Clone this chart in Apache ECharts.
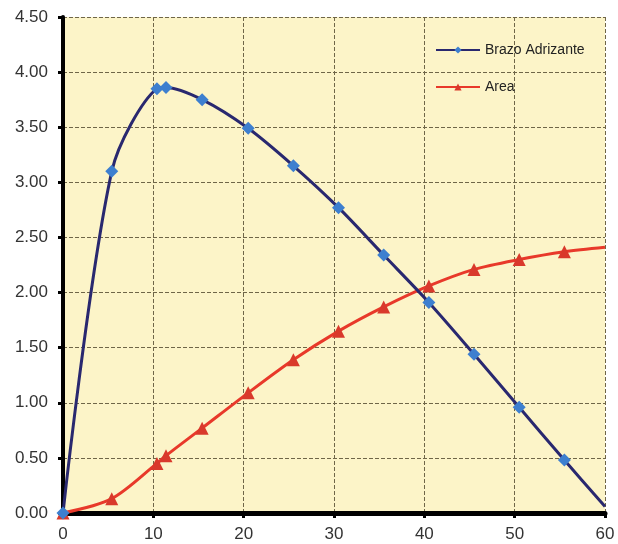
<!DOCTYPE html>
<html>
<head>
<meta charset="utf-8">
<script src="https://cdn.jsdelivr.net/npm/echarts@6/dist/echarts.min.js"></script>
<style>
  html, body { margin: 0; padding: 0; background: #ffffff; }
  #chart { width: 618px; height: 544px; }
</style>
</head>
<body>
<div id="chart"></div>
<script>
// Heel angle (degrees) of each computed point
const angles = [0, 5.4, 10.4, 11.4, 15.4, 20.5, 25.5, 30.5, 35.5, 40.5, 45.5, 50.5, 55.5, 60];
// Righting arm (Brazo Adrizante)
const brazo = [0, 3.10, 3.85, 3.86, 3.75, 3.49, 3.15, 2.77, 2.34, 1.91, 1.44, 0.96, 0.48, 0.06];
// Area under the righting arm curve
const area = [0, 0.13, 0.45, 0.52, 0.77, 1.09, 1.39, 1.65, 1.87, 2.06, 2.21, 2.30, 2.37, 2.41];
// Points drawn without a marker (curve end)
const noMarker = [13];

const seriesNames = ['Brazo Adrizante', 'Area'];
const xMin = 0, xMax = 60, xStep = 10;
const yMin = 0, yMax = 4.5, yStep = 0.5;

function pairs(vals) {
  return angles.map((a, i) => noMarker.includes(i)
    ? { value: [a, vals[i]], symbol: 'none' }
    : [a, vals[i]]);
}

const chart = echarts.init(document.getElementById('chart'), null, { renderer: 'canvas' });
const labelFont = { fontFamily: 'Liberation Sans, Arial, sans-serif', fontSize: 17, color: '#333333' };

chart.setOption({
  animation: false,
  backgroundColor: '#ffffff',
  grid: {
    left: 63, right: 13, top: 17, bottom: 31,
    show: true, backgroundColor: '#fcf4c8', borderWidth: 0
  },
  legend: {
    orient: 'vertical',
    left: 430, top: 38,
    itemGap: 23,
    itemWidth: 44, itemHeight: 9,
    textStyle: { fontFamily: 'Liberation Sans, Arial, sans-serif', fontSize: 14, color: '#222222' },
    data: seriesNames
  },
  xAxis: {
    type: 'value', min: xMin, max: xMax, interval: xStep,
    axisLine: { show: true, onZero: false, lineStyle: { color: '#000000', width: 5 } },
    axisTick: { show: true, length: 5, lineStyle: { color: '#000000', width: 3 } },
    axisLabel: Object.assign({ margin: 13 }, labelFont),
    splitLine: { show: true, lineStyle: { color: '#6f6648', width: 1, type: [4, 2] } }
  },
  yAxis: {
    type: 'value', min: yMin, max: yMax, interval: yStep,
    axisLine: { show: true, onZero: false, lineStyle: { color: '#000000', width: 4 } },
    axisTick: { show: true, length: 5, lineStyle: { color: '#000000', width: 3 } },
    axisLabel: Object.assign({ margin: 15, formatter: v => v.toFixed(2) }, labelFont),
    splitLine: { show: true, lineStyle: { color: '#6f6648', width: 1, type: [4, 2] } }
  },
  series: [
    {
      name: seriesNames[0], type: 'line',
      data: pairs(brazo),
      smooth: 0.3,
      symbol: 'diamond', symbolSize: 13,
      lineStyle: { color: '#29286f', width: 3 },
      itemStyle: { color: '#3d7fcf', borderWidth: 0 },
      z: 3
    },
    {
      name: seriesNames[1], type: 'line',
      data: pairs(area),
      smooth: 0.3,
      symbol: 'triangle', symbolSize: 13,
      lineStyle: { color: '#e8392a', width: 3 },
      itemStyle: { color: '#d9392b', borderWidth: 0 },
      z: 2
    }
  ]
});
</script>
</body>
</html>
